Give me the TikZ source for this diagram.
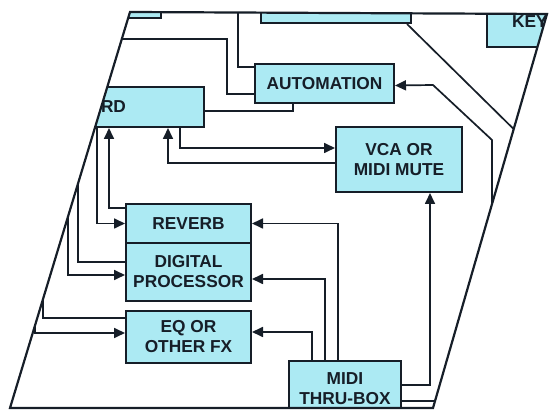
\documentclass[tikz,border=0pt]{standalone}
\usepackage{fontspec}
\setmainfont{Liberation Sans}
\usetikzlibrary{arrows.meta,calc}
\definecolor{boxfill}{RGB}{172,234,243}
\definecolor{ink}{RGB}{22,30,40}
\begin{document}
\begin{tikzpicture}[x=1pt,y=-1pt,
  boxtext/.style={text=ink, font=\bfseries\fontsize{17.3}{20}\selectfont},
  box/.style={draw=ink, line width=2pt, fill=boxfill, boxtext, align=center, inner sep=0pt},
  wire/.style={draw=ink, line width=1.7pt},
  arr/.style={wire, -{Triangle[length=11pt,width=10pt]}},
  frame/.style={draw=ink, line width=2.2pt, line join=miter}]
\useasboundingbox (0,0) rectangle (549,411);
\begin{scope}
\clip (130,12) -- (547,14) -- (433,408) -- (10,408) -- cycle;
% boxes
\node[box, anchor=south east, minimum width=60pt, minimum height=20pt] (tl) at (162,19) {};
\node[box, anchor=south west, minimum width=150pt, minimum height=30pt] (tm) at (260,24) {};
\node[box, anchor=south west, minimum width=140pt, minimum height=50pt,
      label={[boxtext, inner sep=0pt, anchor=base west, xshift=26pt, yshift=20pt]south west:KEY}] (key) at (486,48) {};
\node[box, anchor=north west, minimum width=139pt, minimum height=39pt] (auto) at (254,63) {AUTOMATION};
\node[box, anchor=north west, text width=93pt, inner xsep=10pt, align=left, minimum height=40pt] (rd) at (90,86) {RD};
\node[box, anchor=north west, minimum width=126pt, minimum height=65pt] (vca) at (335,126) {VCA OR\\MIDI MUTE};
\node[box, anchor=north west, minimum width=125pt, minimum height=39pt] (rev) at (125,203) {REVERB};
\node[box, anchor=north west, minimum width=125pt, minimum height=58pt] (dp) at (125,242) {DIGITAL\\PROCESSOR};
\node[box, anchor=north west, minimum width=125pt, minimum height=52pt] (eq) at (125,310) {EQ OR\\OTHER FX};
\node[box, anchor=north west, minimum width=112pt, minimum height=56pt] (thru) at (288,360) {MIDI\\THRU-BOX};
% free ends
\coordinate (c1) at (238,0);
\coordinate (c2) at (100,39);
\coordinate (c4) at (492,430);
\coordinate (c5) at (540,155);
\coordinate (c10) at (78,150);
\coordinate (c11) at (68,150);
\coordinate (c12) at (43,250);
\coordinate (c13) at (35,250);
\coordinate (c18) at (470,401);
% connectors
\draw[wire] (c1) |- ([yshift=-4pt]auto.north west);
\draw[wire] (c2) -- (227,39) |- ([yshift=10pt]auto.south west);
\draw[wire] ([yshift=-4pt]rd.east) -| ([xshift=39pt]auto.south west);
\draw[arr] (c4) -- (492,140) -- (433,85) -- ([yshift=-2pt]auto.east);
\draw[wire] ([xshift=-5pt]tm.south east) -- (c5);
\draw[arr] ([xshift=90pt]rd.south west) |- ([yshift=-22pt]vca.north west);
\draw[arr] ([yshift=-37pt]vca.north west) -| ([xshift=78pt]rd.south west);
\draw[arr] ([yshift=-5pt]rev.north west) -| ([xshift=19pt]rd.south west);
\draw[arr] ([xshift=7pt]rd.south west) |- (rev.west);
\draw[wire] (c10) |- ([yshift=-20pt]dp.north west);
\draw[arr] (c11) |- ([yshift=-33pt]dp.north west);
\draw[wire] (c12) |- ([yshift=-8pt]eq.north west);
\draw[arr] (c13) |- ([yshift=-23pt]eq.north west);
\draw[arr] ([xshift=50pt]thru.north west) |- (rev.east);
\draw[arr] ([xshift=37pt]thru.north west) |- ([yshift=-37pt]dp.north east);
\draw[arr] ([xshift=24pt]thru.north west) |- ([yshift=-22pt]eq.north east);
\draw[arr] ([yshift=-25pt]thru.north east) -| ([xshift=95pt]vca.south west);
\draw[wire] ([yshift=-41pt]thru.north east) -- (c18);
\end{scope}
\draw[frame] (130,12) -- (547,14) -- (433,408) -- (10,408) -- cycle;
\end{tikzpicture}
\end{document}
